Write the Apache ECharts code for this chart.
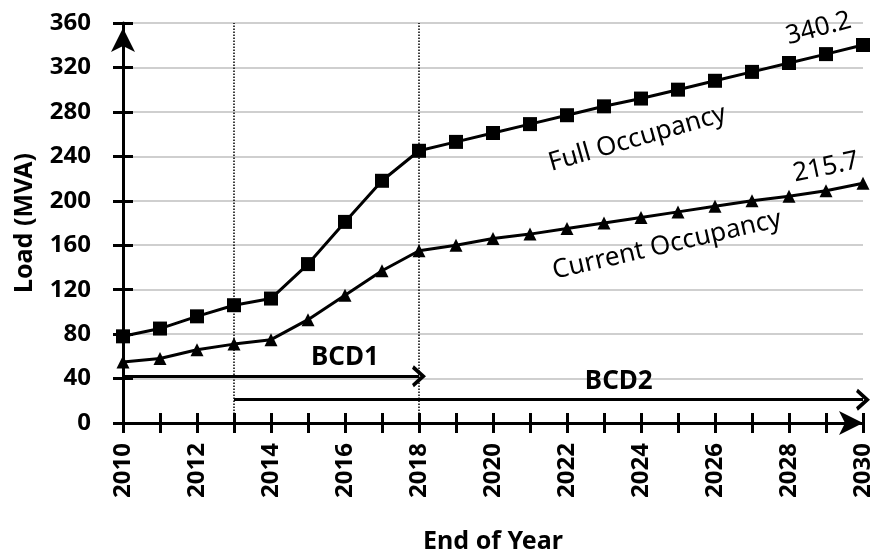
<!DOCTYPE html>
<html>
<head>
<meta charset="utf-8">
<script src="https://cdn.jsdelivr.net/npm/echarts@6/dist/echarts.min.js"></script>
<style>
  html, body { margin: 0; padding: 0; background: #fff; }
  #chart { width: 873px; height: 558px; }
</style>
</head>
<body>
<div id="chart"></div>
<script>
const years = [2010, 2011, 2012, 2013, 2014, 2015, 2016, 2017, 2018, 2019, 2020,
  2021, 2022, 2023, 2024, 2025, 2026, 2027, 2028, 2029, 2030];
const fullOccupancy = [78, 85, 96, 106, 112, 143, 181, 218, 245, 253, 261,
  269, 277, 285, 292, 300, 308, 316, 324, 332, 340.2];
const currentOccupancy = [55, 58, 66, 71, 75, 93, 115, 137, 155, 160, 166,
  170, 175, 180, 185, 190, 195, 200, 204, 209, 215.7];
const phaseLines = [2013, 2018];
const bcd1 = [2010, 2018, 42];
const bcd2 = [2013, 2030, 21];

const FONT = "Noto Sans";
const chevron = "path://M0,13 L10,0 L20,13 L17,15 L10,6 L3,15 Z";

const chart = echarts.init(document.getElementById("chart"));

const xBase = { type: "value", min: 2010, max: 2030, interval: 1, position: "bottom" };
const yBase = { type: "value", min: 0, max: 360, interval: 40, position: "left" };

chart.setOption({
  animation: false,
  grid: { left: 123, right: 10, top: 23, bottom: 135, outerBoundsMode: "none" },
  xAxis: [
    Object.assign({}, xBase, {
      name: "End of Year",
      nameLocation: "middle",
      nameGap: 106,
      nameTextStyle: { fontFamily: FONT, fontWeight: "bold", fontSize: 25, color: "#000" },
      axisLine: { lineStyle: { color: "#000", width: 3 }, symbol: ["none", "arrow"], symbolSize: [18, 24] },
      axisTick: { lineStyle: { color: "#000", width: 3 }, length: 10 },
      axisLabel: {
        rotate: 90, margin: 20,
        fontFamily: FONT, fontWeight: "bold", fontSize: 24, color: "#000",
        formatter: (v) => (v % 2 === 0 ? String(v) : "")
      },
      splitLine: { show: false }
    }),
    Object.assign({}, xBase, {
      axisLine: { show: false },
      axisTick: { inside: true, length: 10, lineStyle: { color: "#000", width: 3 } },
      axisLabel: { show: false },
      splitLine: { show: false }
    })
  ],
  yAxis: [
    Object.assign({}, yBase, {
      name: "Load (MVA)",
      nameLocation: "middle",
      nameGap: 86,
      nameTextStyle: { fontFamily: FONT, fontWeight: "bold", fontSize: 25, color: "#000" },
      axisLine: { lineStyle: { color: "#000", width: 3 }, symbol: ["none", "arrow"], symbolSize: [18, 24], symbolOffset: [0, -5] },
      axisTick: { lineStyle: { color: "#000", width: 3 }, length: 10 },
      axisLabel: { margin: 32, fontFamily: FONT, fontWeight: "bold", fontSize: 24, color: "#000" },
      splitLine: { lineStyle: { color: "#bfbfbf", width: 1.5 } }
    }),
    Object.assign({}, yBase, {
      axisLine: { show: false },
      axisTick: { inside: true, length: 10, lineStyle: { color: "#000", width: 3 } },
      axisLabel: { show: false },
      splitLine: { show: false }
    })
  ],
  series: [
    {
      name: "Full Occupancy",
      type: "line",
      data: years.map((y, i) => [y, fullOccupancy[i]]),
      symbol: "rect",
      symbolSize: 14,
      itemStyle: { color: "#000" },
      lineStyle: { color: "#000", width: 3 },
      markLine: {
        silent: true,
        symbol: "none",
        label: { show: false },
        lineStyle: { color: "#000", type: "dotted", width: 1.5 },
        data: phaseLines.map((x) => ({ xAxis: x }))
      }
    },
    {
      name: "Current Occupancy",
      type: "line",
      data: years.map((y, i) => [y, currentOccupancy[i]]),
      symbol: "triangle",
      symbolSize: 13,
      itemStyle: { color: "#000" },
      lineStyle: { color: "#000", width: 3 },
      markLine: {
        silent: true,
        label: { show: false },
        lineStyle: { color: "#000", type: "solid", width: 3 },
        data: [bcd1, bcd2].map((a) => [
          { coord: [a[0], a[2]], symbol: "none" },
          { coord: [a[1], a[2]], symbol: chevron, symbolSize: [22, 14] }
        ])
      }
    }
  ]
});

// annotation texts placed in data coordinates
const notes = [
  { text: "Full Occupancy", at: [2023.9, 256], rot: 16, size: 26 },
  { text: "Current Occupancy", at: [2024.7, 160], rot: 13, size: 26 },
  { text: "340.2", at: [2028.8, 355], rot: 15, size: 26 },
  { text: "215.7", at: [2029.0, 230], rot: 12, size: 26 },
  { text: "BCD1", at: [2016.0, 59], rot: 0, size: 26 },
  { text: "BCD2", at: [2023.4, 37], rot: 0, size: 26 }
];
chart.setOption({
  graphic: notes.map((n) => {
    const p = chart.convertToPixel({ xAxisIndex: 0, yAxisIndex: 0 }, n.at);
    return {
      type: "text",
      x: p[0], y: p[1],
      rotation: n.rot * Math.PI / 180,
      style: {
        text: n.text, fill: "#000",
        font: (n.rot === 0 ? "bold " : "") + n.size + "px '" + FONT + "'",
        align: "center", verticalAlign: "middle"
      }
    };
  })
});
</script>
</body>
</html>
